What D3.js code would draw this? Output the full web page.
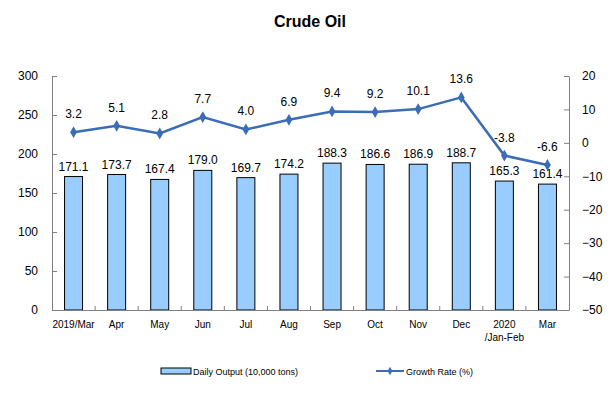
<!DOCTYPE html>
<html>
<head>
<meta charset="utf-8">
<script src="https://cdn.jsdelivr.net/npm/d3@7"></script>
<style>
body{margin:0;background:#fff;}
svg{font-family:"Liberation Sans",Arial,sans-serif;}
.tick text{fill:#000;}
</style>
</head>
<body>
<svg id="chart" width="616" height="394"></svg>
<script>
var categories=["2019/Mar","Apr","May","Jun","Jul","Aug","Sep","Oct","Nov","Dec","2020\n/Jan-Feb","Mar"];
var output=[171.1,173.7,167.4,179.0,169.7,174.2,188.3,186.6,186.9,188.7,165.3,161.4];
var growth=[3.2,5.1,2.8,7.7,4.0,6.9,9.4,9.2,10.1,13.6,-3.8,-6.6];
var leftTicks=[0,50,100,150,200,250,300];
var rightTicks=[-50,-40,-30,-20,-10,0,10,20];

var plotLeft=52,plotRight=569,plotTop=76,plotBottom=310;
var svg=d3.select("#chart");

var x=d3.scaleBand().domain(categories).range([plotLeft,plotRight]);
var yL=d3.scaleLinear().domain([0,300]).range([plotBottom,plotTop]);
var yR=d3.scaleLinear().domain([-50,20]).range([plotBottom,plotTop]);

// title
svg.append("text")
    .attr("x",310).attr("y",27)
    .attr("text-anchor","middle")
    .attr("font-size",16).attr("font-weight","bold")
    .text("Crude Oil");

// bars
svg.selectAll("rect.bar")
    .data(output)
    .enter()
    .append("rect")
    .attr("class","bar")
    .attr("x",function(d,i){return x(categories[i])+x.bandwidth()/2-9;})
    .attr("width",18)
    .attr("y",function(d){return yL(d);})
    .attr("height",function(d){return plotBottom-yL(d);})
    .attr("fill","#99CCFF")
    .attr("stroke","#000")
    .attr("stroke-width",1);

svg.selectAll("text.barNum")
    .data(output)
    .enter()
    .append("text")
    .attr("class","barNum")
    .attr("x",function(d,i){return x(categories[i])+x.bandwidth()/2;})
    .attr("y",function(d){return yL(d)-6;})
    .attr("text-anchor","middle")
    .attr("font-size",12)
    .text(function(d){return d.toFixed(1);});

// left axis
var gL=svg.append("g")
    .attr("transform","translate("+plotLeft+",0)")
    .call(d3.axisLeft(yL).tickValues(leftTicks).tickSizeInner(-5).tickSizeOuter(0).tickPadding(14));
gL.selectAll("text").attr("font-size",12);

// right axis
var gR=svg.append("g")
    .attr("transform","translate("+plotRight+",0)")
    .call(d3.axisRight(yR).tickValues(rightTicks).tickSizeInner(-5).tickSizeOuter(0).tickPadding(13));
gR.selectAll("text").attr("font-size",12);

// x axis
var gX=svg.append("g")
    .attr("transform","translate(0,"+plotBottom+")")
    .call(d3.axisBottom(x).tickSize(0).tickPadding(10));
gX.selectAll(".tick text").remove();
gX.selectAll(".tick")
    .append("text")
    .attr("fill","#000")
    .attr("font-size",10)
    .attr("text-anchor","middle")
    .attr("y",18)
    .selectAll("tspan")
    .data(function(d){return d.split("\n");})
    .enter()
    .append("tspan")
    .attr("x",0)
    .attr("dy",function(d,i){return i?13:0;})
    .text(function(d){return d;});
svg.append("g")
    .selectAll("line")
    .data(categories.slice(1))
    .enter()
    .append("line")
    .attr("x1",function(d){return x(d);})
    .attr("x2",function(d){return x(d);})
    .attr("y1",plotBottom).attr("y2",plotBottom-4)
    .attr("stroke","#808080");

svg.selectAll(".domain,.tick line").attr("stroke","#808080");

// line
var line=d3.line()
    .x(function(d,i){return x(categories[i])+x.bandwidth()/2;})
    .y(function(d){return yR(d);});
svg.append("path")
    .datum(growth)
    .attr("d",line)
    .attr("fill","none")
    .attr("stroke","#3A6DB5")
    .attr("stroke-width",2.5);

svg.selectAll("path.pt")
    .data(growth)
    .enter()
    .append("path")
    .attr("class","pt")
    .attr("d",d3.symbol().type(d3.symbolDiamond).size(40))
    .attr("transform",function(d,i){return "translate("+(x(categories[i])+x.bandwidth()/2)+","+yR(d)+")";})
    .attr("fill","#3A6DB5");

svg.selectAll("text.gNum")
    .data(growth)
    .enter()
    .append("text")
    .attr("class","gNum")
    .attr("x",function(d,i){return x(categories[i])+x.bandwidth()/2;})
    .attr("y",function(d){return yR(d)-14;})
    .attr("text-anchor","middle")
    .attr("font-size",12)
    .text(function(d){return d.toFixed(1);});

// legend
svg.append("rect")
    .attr("x",161).attr("y",368).attr("width",30).attr("height",6)
    .attr("fill","#99CCFF").attr("stroke","#000");
svg.append("text")
    .attr("x",193).attr("y",375)
    .attr("font-size",9)
    .text("Daily Output (10,000 tons)");
svg.append("line")
    .attr("x1",376).attr("x2",404).attr("y1",371).attr("y2",371)
    .attr("stroke","#3A6DB5").attr("stroke-width",2);
svg.append("path")
    .attr("d",d3.symbol().type(d3.symbolDiamond).size(20))
    .attr("transform","translate(390,371)")
    .attr("fill","#3A6DB5");
svg.append("text")
    .attr("x",406).attr("y",375)
    .attr("font-size",9)
    .text("Growth Rate (%)");
</script>
</body>
</html>
